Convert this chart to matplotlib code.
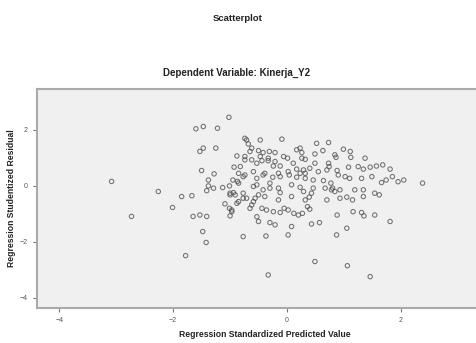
import matplotlib.pyplot as plt

plt.rcParams['font.family'] = ['Liberation Sans', 'DejaVu Sans']

# standardized predicted value (x) and studentized residual (y)
pred = [-3.08, -2.73, -2.26, -2.01, -1.85, -1.67, -1.78, -1.65, -1.53, -1.41,
        -1.48, -1.42, -1.60, -1.47, -1.22, -1.02, -1.53, -1.47, -1.25, -1.50,
        -1.28, -1.38, -1.38, -1.29, -1.41, -1.13, -1.01, -1.00, -0.94, -1.09,
        -1.01, -0.97, -1.00, -0.87,
        -0.71, -0.68, -0.47, -0.09, -0.88, -0.65, -0.50, -0.42, -0.31, -0.21,
        -0.62, -0.53, -0.44, -0.33, -0.24, -0.12, 0.01, 0.11, 0.23, 0.26,
        0.32, 0.52, 0.73, 0.63, 0.49, 0.99, 1.11, 1.12, 0.86, 0.74,
        0.70, 0.88, 1.08, 1.25, 1.37, 1.34, 1.46, 1.57, 1.68, 1.81,
        1.85, 1.74, 1.95, 2.05, 1.66, 1.62, 1.54, 2.38, 0.17, 0.40,
        0.55, -0.77, -0.53, -0.42, -0.25, -0.12, 0.04, 0.17, 0.32, 0.46,
        0.64, 0.77, 0.90, 1.02, 1.19, -0.85, -1.00, -0.91, -0.77, -0.56,
        -0.59, -0.42, -0.30, -0.15, -0.12, 0.08, 0.23, 0.32, 0.39, 0.43,
        0.70, 0.80, 0.93, 1.05, 1.15, -0.44, -0.36, -0.24, -0.12, -0.05,
        0.02, 0.12, 0.20, 0.27, 0.36, 0.40, -0.53, -0.50, -0.30, -0.21,
        0.08, 0.43, 0.57, 0.88, 1.16, 1.31, 1.35, 1.54, 1.81, 1.05,
        0.87, -0.77, -0.37, 0.02, 0.49, 1.06, 1.46, -0.33,
        -0.74, -0.62, -0.74, -0.82, -0.93, -0.85, -0.95, -0.88, -0.97, -0.65,
        -0.62,
        -0.47, -0.74, -0.33, -0.21, -0.06, 0.17, 0.26, -0.74, -0.59, -0.39,
        -0.15, 0.02, 0.23, -0.53, -0.30, -0.77, -0.71, -0.50, -0.39, -0.15,
        0.08, -0.85, -0.59,
        0.84, 0.49, 0.73, 0.29, 0.32, 1.10, 1.31, 1.49, 0.29, 0.46,
        0.67, 0.78, 0.84, 1.34, 0.93, 1.34]
resid = [0.16, -1.09, -0.20, -0.77, -0.38, -0.35, -2.49, -1.09, -1.04, -1.09,
         -1.63, -2.02, 2.04, 2.12, 2.06, 2.45, 1.23, 1.35, 1.35, 0.55,
         0.43, 0.21, 0.00, -0.08, -0.17, -0.06, 0.00, -0.32, -0.24, -0.64,
         -0.80, -0.92, -1.07, 0.16,
         1.64, 1.50, 1.64, 1.67, 1.07, 1.23, 1.26, 1.19, 1.23, 1.19,
         0.93, 0.81, 0.90, 0.90, 0.71, 0.71, 0.99, 0.81, 1.35, 1.19,
         0.95, 1.52, 1.55, 1.26, 1.14, 1.31, 1.23, 1.02, 1.02, 0.69,
         0.57, 0.55, 0.67, 0.69, 0.99, 0.60, 0.67, 0.71, 0.75, 0.60,
         0.33, 0.21, 0.15, 0.21, 0.12, -0.32, -0.26, 0.10, 0.60, 0.63,
         0.51, 0.33, 0.27, 0.39, 0.31, 0.33, 0.39, 0.31, 0.27, 0.21,
         0.19, 0.10, 0.39, 0.33, -0.14, 0.10, -0.26, -0.32, -0.44, -0.44,
         -0.02, -0.14, -0.08, -0.08, -0.24, 0.04, -0.05, -0.50, -0.40, -0.26,
         -0.50, -0.08, -0.14, -0.40, -0.50, -0.80, -0.86, -0.92, -0.95, -0.80,
         -0.86, -0.98, -1.04, -0.98, -0.74, -0.83, -1.10, -1.27, -1.31, -1.39,
         -1.45, -1.36, -1.31, -1.04, -0.92, -0.95, -1.07, -1.04, -1.27, -1.51,
         -1.75, -1.81, -1.79, -1.75, -2.70, -2.85, -3.24, -3.18,
         1.70, 1.35, 1.05, 0.69, 0.67, 0.45, 0.21, -0.62, -0.86, -0.80,
         -0.68,
         1.05, 0.93, 0.99, 0.87, 1.05, 1.29, 0.99, 0.39, 0.51, 0.45,
         0.45, 0.51, 0.45, 0.04, 0.10, -0.26, -0.44, -0.32, -0.38, -0.50,
         -0.38, -0.56, -0.56,
         1.11, 0.81, 0.81, 0.57, 0.45, 0.27, 0.27, 0.33, -0.20, -0.08,
         -0.08, -0.14, -0.20, -0.14, -0.44, -0.38]

x_ticks = [-4, -2, 0, 2]
y_ticks = [-4, -2, 0, 2]

fig = plt.figure(figsize=(4.76, 3.43), dpi=100)
fig.patch.set_facecolor('white')
ax = fig.add_axes([0.0777, 0.102, 0.956, 0.6385])
ax.set_facecolor('#f0f0f0')

ax.scatter(pred, resid, s=10, facecolors='none', edgecolors='#505050',
           linewidths=0.75, alpha=0.8)

ax.set_xlim(-4.39, 3.6)
ax.set_ylim(-4.36, 3.46)
ax.set_xticks(x_ticks)
ax.set_yticks(y_ticks)
ax.tick_params(labelsize=5, length=3, width=0.8, color='#777777', labelcolor='#555555')

for side in ['left', 'top', 'bottom', 'right']:
    ax.spines[side].set_color('#aaaaaa')
    ax.spines[side].set_linewidth(1.5)

ax.set_xlabel('Regression Standardized Predicted Value', fontsize=6.2,
              fontweight='bold', labelpad=4, color='#222222')
ax.set_ylabel('Regression Studentized Residual', fontsize=6.2,
              fontweight='bold', labelpad=3, color='#222222')

fig.text(0.5, 0.947, 'Scatterplot', ha='center', va='center',
         fontsize=6.8, fontweight='bold', color='#222222')
fig.text(0.497, 0.787, 'Dependent Variable: Kinerja_Y2', ha='center', va='center',
         fontsize=7, fontweight='bold', color='#222222')

plt.savefig('out.png', dpi=100)
